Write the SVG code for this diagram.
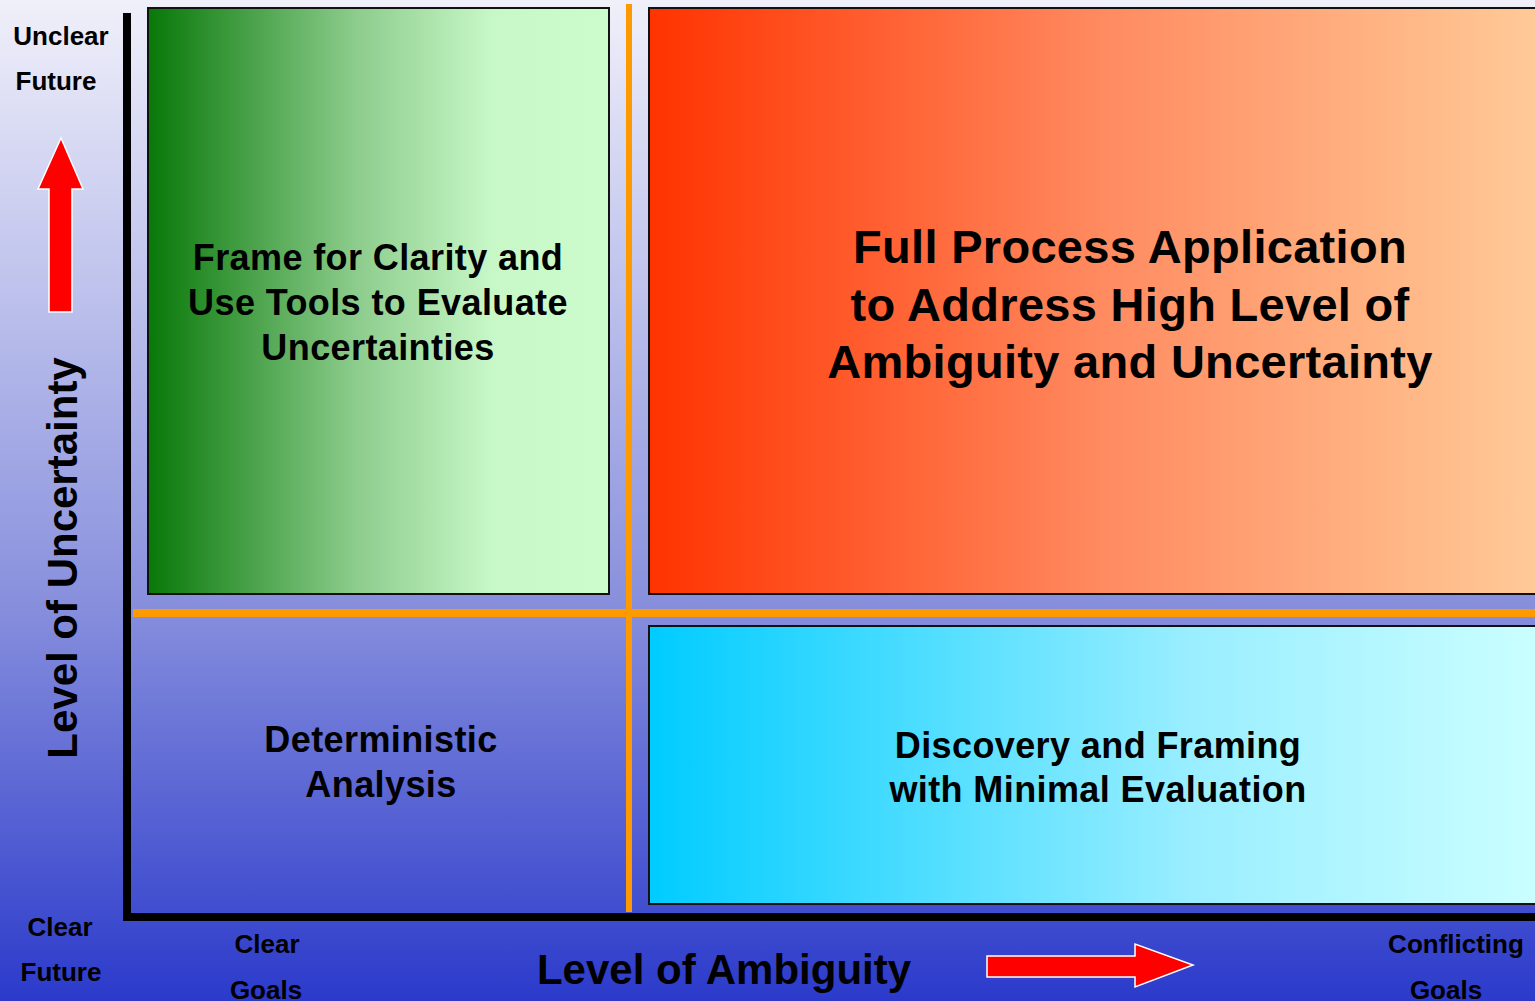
<svg xmlns="http://www.w3.org/2000/svg" width="1535" height="1001" viewBox="0 0 1535 1001">
<defs>
<linearGradient id="bg" x1="0" y1="0" x2="0" y2="1">
<stop offset="0" stop-color="#f0f0fa"/>
<stop offset="0.6" stop-color="#8890dd"/>
<stop offset="1" stop-color="#2b3acb"/>
</linearGradient>
<linearGradient id="gGreen" x1="0" y1="0" x2="1" y2="0">
<stop offset="0" stop-color="#087808"/>
<stop offset="0.45" stop-color="#8ccc8c"/>
<stop offset="0.75" stop-color="#c8f8c8"/>
<stop offset="1" stop-color="#ccfccc"/>
</linearGradient>
<linearGradient id="gRed" x1="0" y1="0" x2="1" y2="0">
<stop offset="0" stop-color="#ff3300"/>
<stop offset="0.5" stop-color="#ff8a60"/>
<stop offset="1" stop-color="#ffcc99"/>
</linearGradient>
<linearGradient id="gCyan" x1="0" y1="0" x2="1" y2="0">
<stop offset="0" stop-color="#00ccff"/>
<stop offset="0.6" stop-color="#99eeff"/>
<stop offset="1" stop-color="#ccffff"/>
</linearGradient>
</defs>
<style>
text{font-family:"Liberation Sans",Arial,sans-serif;font-weight:bold;fill:#000;text-anchor:middle}
.sm{font-size:26px}
.q{font-size:36px;letter-spacing:0.4px}
.big{font-size:47px;letter-spacing:0.3px}
.ax{font-size:42px}
.box{stroke:#111;stroke-width:2}
.arrow{fill:#ff0000;stroke:#ffffff;stroke-width:1.5}
</style>
<rect x="0" y="0" width="1535" height="1001" fill="url(#bg)"/>
<g id="connectors">
<rect x="626" y="4" width="6" height="908" fill="#ff9900"/>
<rect x="133" y="609" width="1402" height="8" fill="#ff9900"/>
<rect x="123" y="13" width="8" height="908" fill="#000"/>
<rect x="123" y="913" width="1412" height="8" fill="#000"/>
<polygon class="arrow" points="49,312 72,312 72,189 83,189 61,138 38,189 49,189"/>
<polygon class="arrow" points="987,956 1135,956 1135,944 1193,965 1135,987 1135,977 987,977"/>
</g>
<g id="q-green">
<rect class="box" x="148" y="8" width="461" height="586" fill="url(#gGreen)"/>
<text class="q" x="378" y="270">Frame for Clarity and</text>
<text class="q" x="378" y="315">Use Tools to Evaluate</text>
<text class="q" x="378" y="360">Uncertainties</text>
</g>
<g id="q-red">
<rect class="box" x="649" y="8" width="900" height="586" fill="url(#gRed)"/>
<text class="big" x="1130" y="263">Full Process Application</text>
<text class="big" x="1130" y="321">to Address High Level of</text>
<text class="big" x="1130" y="378">Ambiguity and Uncertainty</text>
</g>
<g id="q-cyan">
<rect class="box" x="649" y="626" width="900" height="278" fill="url(#gCyan)"/>
<text class="q" x="1098" y="758">Discovery and Framing</text>
<text class="q" x="1098" y="802">with Minimal Evaluation</text>
</g>
<g id="q-blue">
<text class="q" x="381" y="752">Deterministic</text>
<text class="q" x="381" y="797">Analysis</text>
</g>
<g id="labels">
<text class="sm" x="61" y="45">Unclear</text>
<text class="sm" x="56" y="90">Future</text>
<text class="sm" x="60" y="936">Clear</text>
<text class="sm" x="61" y="981">Future</text>
<text class="sm" x="267" y="953">Clear</text>
<text class="sm" x="266" y="999">Goals</text>
<text class="sm" x="1456" y="953">Conflicting</text>
<text class="sm" x="1446" y="999">Goals</text>
<text class="ax" transform="translate(77,558) rotate(-90)">Level of Uncertainty</text>
<text class="ax" x="724" y="984">Level of Ambiguity</text>
</g>
</svg>
